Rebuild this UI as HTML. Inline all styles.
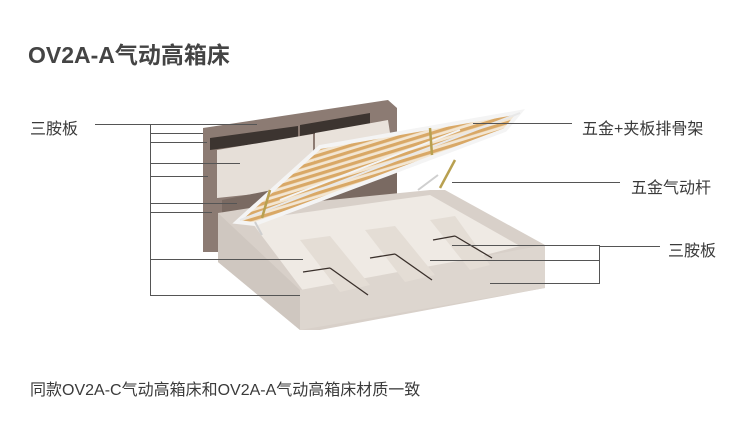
<!DOCTYPE html>
<html><head><meta charset="utf-8"><style>
html,body{margin:0;padding:0;background:#fff;}
body{width:750px;height:439px;position:relative;overflow:hidden;font-family:"Liberation Sans","Noto Sans CJK SC",sans-serif;}
.t{position:absolute;color:#3a3a3a;white-space:nowrap;}
</style></head><body>
<svg width="750" height="439" style="position:absolute;left:0;top:0">
<defs>
<pattern id="sl" width="6" height="6" patternUnits="userSpaceOnUse" patternTransform="rotate(-17)">
<rect width="6" height="6" fill="#f3e6d2"/><rect width="6" height="3.2" fill="#d9a866"/>
</pattern>
</defs>
<!-- headboard -->
<polygon points="203,128 388,100 397,108 397,205 222,252 203,252" fill="#8c7b73"/>
<polygon points="210,138 298,126 298,138 210,150" fill="#3c3430"/>
<polygon points="300,125 370,113 370,124 300,136" fill="#3c3430"/>
<polygon points="217,150 313,134 313,188 217,198" fill="#e6dfd8"/>
<polygon points="315,133 388,120 395,165 315,180" fill="#e9e2db"/>
<polygon points="222,200 397,165 397,205 222,252" fill="#7a6a62"/>
<!-- base -->
<polygon points="218,213 250,208 430,190 445,190 545,245 545,288 320,330 300,330 218,262" fill="#d8d0c9"/>
<polygon points="250,220 430,195 520,246 310,300" fill="#efeae4"/>
<polygon points="300,330 545,288 545,245 300,290" fill="#ddd6cf"/>
<polygon points="218,213 300,290 300,330 218,262" fill="#cfc7c0"/>
<!-- dividers -->
<polygon points="300,240 330,236 370,285 340,292" fill="#e4ddd5"/>
<polygon points="365,230 395,226 435,275 405,282" fill="#e4ddd5"/>
<polygon points="430,220 455,216 490,265 470,270" fill="#e4ddd5"/>
<g stroke="#3a302b" stroke-width="1.3">
<line x1="303" y1="272" x2="330" y2="268"/><line x1="330" y1="268" x2="368" y2="295"/>
<line x1="370" y1="258" x2="395" y2="254"/><line x1="395" y1="254" x2="432" y2="280"/>
<line x1="433" y1="240" x2="455" y2="236"/><line x1="455" y1="236" x2="492" y2="258"/>
</g>
<!-- slat platform -->
<polygon points="237,222 320,147 520,112 505,130 255,224" fill="url(#sl)" stroke="#f4f4f4" stroke-width="4"/>
<line x1="240" y1="220" x2="520" y2="113" stroke="#e8e8e8" stroke-width="2"/>
<line x1="280" y1="200" x2="460" y2="130" stroke="#f4f4f4" stroke-width="2"/>
<g stroke="#b8a050" stroke-width="2.5"><line x1="262" y1="218" x2="270" y2="190"/><line x1="440" y1="188" x2="455" y2="160"/><line x1="430" y1="128" x2="432" y2="155"/></g>
<g stroke="#cfcfcf" stroke-width="2"><line x1="418" y1="190" x2="438" y2="175"/><line x1="255" y1="222" x2="262" y2="235"/></g>
<!-- leader lines -->
<g stroke="#555" stroke-width="1" fill="none">
<line x1="95" y1="124.5" x2="257" y2="124.5"/>
<line x1="150.5" y1="124" x2="150.5" y2="295"/>
<line x1="150" y1="133.5" x2="203" y2="133.5"/>
<line x1="150" y1="142.5" x2="207" y2="142.5"/>
<line x1="150" y1="163.5" x2="240" y2="163.5"/>
<line x1="150" y1="176.5" x2="208" y2="176.5"/>
<line x1="150" y1="203.5" x2="237" y2="203.5"/>
<line x1="150" y1="212.5" x2="212" y2="212.5"/>
<line x1="150" y1="259.5" x2="303" y2="259.5"/>
<line x1="150" y1="295.5" x2="300" y2="295.5"/>
<line x1="473" y1="123.5" x2="572" y2="123.5"/>
<line x1="452" y1="182.5" x2="620" y2="182.5"/>
<line x1="600" y1="246.5" x2="660" y2="246.5"/>
<line x1="599.5" y1="245" x2="599.5" y2="283"/>
<line x1="452" y1="245.5" x2="600" y2="245.5"/>
<line x1="430" y1="260.5" x2="600" y2="260.5"/>
<line x1="490" y1="283.5" x2="600" y2="283.5"/>
</g>
</svg>
<div class="t" style="left:28px;top:36px;font-size:23px;font-weight:bold;color:#444;">OV2A-A气动高箱床</div>
<div class="t" style="left:30px;top:115px;font-size:16px;">三胺板</div>
<div class="t" style="left:582px;top:115px;font-size:16px;">五金+夹板排骨架</div>
<div class="t" style="left:631px;top:174px;font-size:16px;">五金气动杆</div>
<div class="t" style="left:668px;top:237px;font-size:16px;">三胺板</div>
<div class="t" style="left:30px;top:376px;font-size:16px;">同款OV2A-C气动高箱床和OV2A-A气动高箱床材质一致</div>
</body></html>
